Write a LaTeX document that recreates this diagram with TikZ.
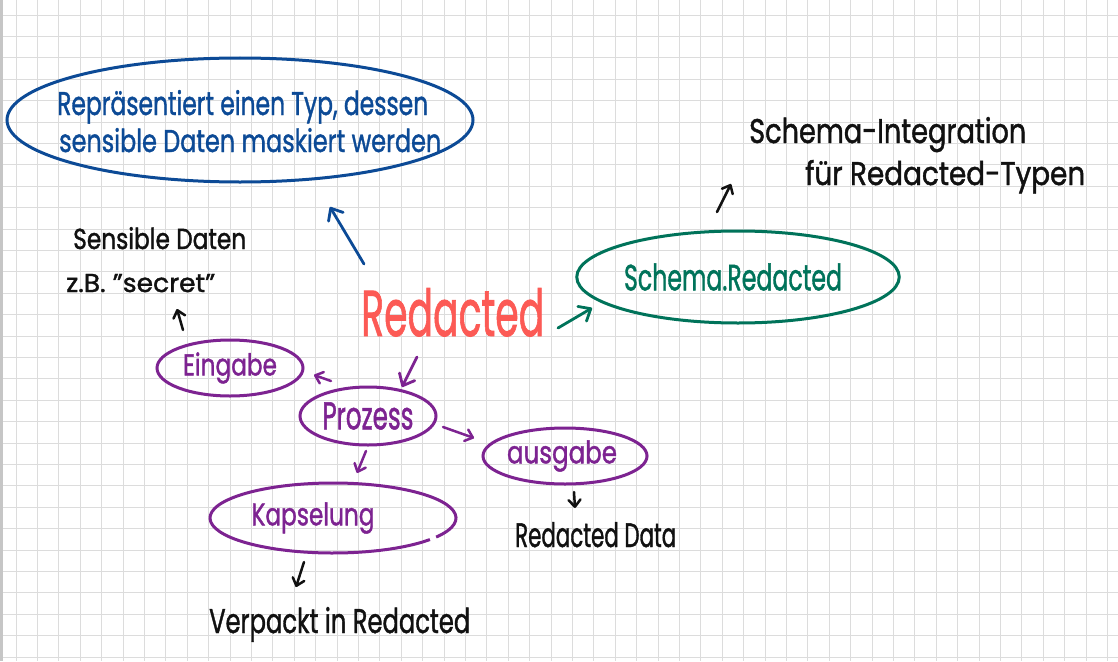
\documentclass[tikz,border=0pt]{standalone}
\usepackage{fontspec}
\setmainfont{Poppins}[FakeBold=1.4]
\usetikzlibrary{arrows.meta,shapes.geometric}
\definecolor{cblue}{HTML}{0C4A96}
\definecolor{cred}{HTML}{FC5A55}
\definecolor{cgreen}{HTML}{00735A}
\definecolor{cpurple}{HTML}{7D2391}
\definecolor{cink}{HTML}{111111}
\definecolor{cgrid}{HTML}{DCDCDC}
\newcommand{\fitt}[3]{\resizebox{#1pt}{#2pt}{#3}}
\begin{document}
\begin{tikzpicture}[x=1pt,y=-1pt,
  ell/.style={ellipse,draw,line width=3pt,inner sep=0pt},
  txt/.style={anchor=base west,inner sep=0pt},
  arr/.style={line width=2.8pt,line cap=round,-{Straight Barb[length=10pt,width=17pt,line cap=round,line join=round]}},
  sarr/.style={line width=2.5pt,line cap=round,-{Straight Barb[length=7pt,width=12pt,line cap=round,line join=round]}}]
\useasboundingbox (0,0) rectangle (1118,661);
\fill[white] (0,0) rectangle (1118,661);
\foreach \k in {0,...,51} \draw[cgrid,line width=0.9pt] ({16+21.4*\k},0) -- ({16+21.4*\k},661);
\foreach \k in {0,...,30} \draw[cgrid,line width=0.9pt] (0,{15+21.4*\k}) -- (1118,{15+21.4*\k});
\fill[gray!45] (0,0) rectangle (3,661);

% blue description
\node[ell,draw=cblue,minimum width=466pt,minimum height=124pt] (desc) at (240,120) {};
\node[txt,text=cblue] (d1) at (57,115) {\fitt{371}{25}{Repräsentiert einen Typ, dessen}};
\node[txt,text=cblue] (d2) at (59,152) {\fitt{382}{24}{sensible Daten maskiert werden}};

% central word
\node[txt,text=cred] (red) at (361,336) {\fitt{183}{48}{Redacted}};

% sensible data
\node[txt,text=cink] (sens) at (73,249) {\fitt{173}{22}{Sensible Daten}};
\node[txt,text=cink] (zb) at (66,292) {\fitt{149}{18}{z.B. "secret"}};

% schema
\node[ell,draw=cgreen,text=cgreen,minimum width=296pt,minimum height=92pt] (schema) at (738,277) {\fitt{218}{27}{Schema.Redacted}\hspace*{10pt}};
\node[txt,text=cink] (si1) at (749,143) {\fitt{277}{26}{Schema-Integration}};
\node[txt,text=cink] (si2) at (805,185) {\fitt{280}{25}{für Redacted-Typen}};

% purple process
\node[ell,draw=cpurple,text=cpurple,minimum width=146pt,minimum height=56pt] (ein) at (230,368) {\fitt{94}{23}{Eingabe}};
\node[ell,draw=cpurple,text=cpurple,minimum width=136pt,minimum height=58pt] (proz) at (368,416) {\fitt{91}{27}{Prozess}};
\node[ell,draw=cpurple,text=cpurple,minimum width=160pt,minimum height=56pt] (aus) at (565,456) {\fitt{110}{23}{ausgabe}\hspace*{6pt}};
\node[ellipse,inner sep=0pt,text=cpurple,minimum width=246pt,minimum height=70pt] (kap) at (333,518) {\fitt{123}{23}{Kapselung}\hspace*{40pt}};
\draw[cpurple,line width=3pt] ([shift={(-33:123pt and 35pt)}]kap.center) arc[start angle=-33,end angle=322,x radius=123pt,y radius=35pt];

\node[txt,text=cink] (verp) at (209,633) {\fitt{261}{26}{Verpackt in Redacted}};
\node[txt,text=cink] (rdata) at (515,547) {\fitt{161}{25}{Redacted Data}};

% arrow end points
\coordinate (a1s) at (364,264); \coordinate (a1e) at (330,207);
\coordinate (a2s) at (183,330); \coordinate (a2e) at (177,309);
\coordinate (a3s) at (558,328); \coordinate (a3e) at (592,308);
\coordinate (a4s) at (717,212); \coordinate (a4e) at (731,184);
\coordinate (a5s) at (417,357); \coordinate (a5e) at (402,387);
\coordinate (a6s) at (331,381); \coordinate (a6e) at (314,375);
\coordinate (a7s) at (443,427); \coordinate (a7e) at (474,438);
\coordinate (a8s) at (366,451); \coordinate (a8e) at (357,473);
\coordinate (a9s) at (304,562); \coordinate (a9e) at (296,587);
\coordinate (a10s) at (574,492); \coordinate (a10e) at (575,508);

\draw[arr,cblue] (a1s) -- (a1e);
\draw[sarr,cink] (a2s) -- (a2e);
\draw[arr,cgreen] (a3s) -- (a3e);
\draw[sarr,cink] (a4s) -- (a4e);
\draw[arr,cpurple] (a5s) -- (a5e);
\draw[sarr,cpurple] (a6s) -- (a6e);
\draw[sarr,cpurple] (a7s) -- (a7e);
\draw[sarr,cpurple] (a8s) -- (a8e);
\draw[sarr,cink] (a9s) -- (a9e);
\draw[sarr,cink] (a10s) -- (a10e);
\end{tikzpicture}
\end{document}
